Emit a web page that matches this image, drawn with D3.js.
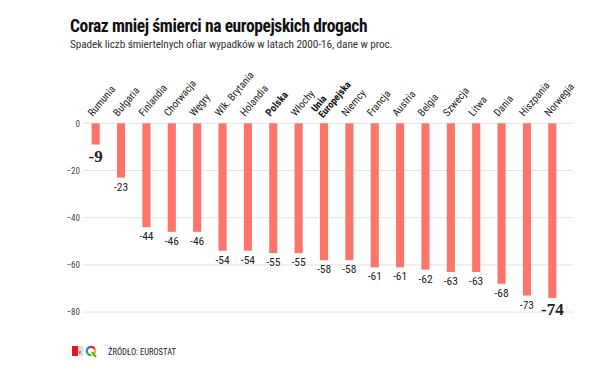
<!DOCTYPE html>
<html><head><meta charset="utf-8">
<script src="https://cdn.jsdelivr.net/npm/d3@7/dist/d3.min.js"></script>
<style>
body{margin:0;background:#fff;}
svg{display:block;}
</style></head>
<body>
<svg id="c" width="600" height="378"></svg>
<script>
const categories = ["Rumunia","Bułgaria","Finlandia","Chorwacja","Węgry","Wlk. Brytania","Holandia","Polska","Włochy","Unia Europejska","Niemcy","Francja","Austria","Belgia","Szwecja","Litwa","Dania","Hiszpania","Norwegia"];
const values = [-9,-23,-44,-46,-46,-54,-54,-55,-55,-58,-58,-61,-61,-62,-63,-63,-68,-73,-74];
const yTicks = [0,-20,-40,-60,-80];
const boldCats = ["Polska","Unia Europejska"];
const bigLabels = ["Rumunia","Norwegia"];

const svg = d3.select("#c");
const cond = "'Liberation Sans Narrow','Roboto Condensed','Arial Narrow',sans-serif";

const x = d3.scaleBand().domain(categories).range([83, 565]).paddingInner(0.68).paddingOuter(0.34);
const y = d3.scaleLinear().domain([0,-80]).range([123.3, 312.1]);

// title
svg.append("text").attr("x",70).attr("y",32).attr("font-family",cond).attr("font-weight","bold")
  .attr("font-size",17.5).attr("fill","#111").attr("letter-spacing","-0.4").text("Coraz mniej śmierci na europejskich drogach");
svg.append("text").attr("x",70).attr("y",48).attr("font-family",cond)
  .attr("font-size",11.3).attr("fill","#333").attr("letter-spacing","-0.1").text("Spadek liczb śmiertelnych ofiar wypadków w latach 2000-16, dane w proc.");

// grid
const yAxis = d3.axisLeft(y).tickValues(yTicks).tickSize(0).tickPadding(0);
const ga = svg.append("g").attr("transform","translate(80,0)").call(yAxis);
ga.select(".domain").remove();
ga.selectAll("text").attr("font-family",cond).attr("font-size",9).attr("fill","#444").attr("dy","0.32em");
svg.append("g").selectAll("line").data(yTicks).join("line")
  .attr("x1",83).attr("x2",573).attr("y1",d=>y(d)).attr("y2",d=>y(d))
  .attr("stroke","#e4e4e4").attr("stroke-width",1);

// bars
svg.append("g").selectAll("rect").data(categories).join("rect")
  .attr("x",d=>x(d)).attr("width",x.bandwidth())
  .attr("y",y(0)).attr("height",(d,i)=>y(values[i])-y(0))
  .attr("fill","#ff7469");

// value labels
svg.append("g").selectAll("text").data(categories).join("text")
  .attr("x",d=>x(d)+x.bandwidth()/2)
  .attr("y",(d,i)=>y(values[i]) + (bigLabels.includes(d)?17:13))
  .attr("text-anchor","middle")
  .attr("font-family",d=>bigLabels.includes(d)?"'Liberation Serif','DejaVu Serif',serif":cond)
  .attr("font-weight",d=>bigLabels.includes(d)?"bold":"normal")
  .attr("font-size",d=>bigLabels.includes(d)?17:11.5)
  .attr("fill","#222")
  .text((d,i)=>values[i]);

// category labels
const cl = svg.append("g").selectAll("g").data(categories).join("g")
  .attr("transform",d=>`translate(${x(d)+x.bandwidth()/2-3},117) rotate(-50)`);
cl.each(function(d){
  const g = d3.select(this);
  const bold = boldCats.includes(d);
  if(d==="Unia Europejska"){
    g.append("text").attr("x",0).attr("y",-7).attr("font-family",cond).attr("font-weight","bold")
      .attr("font-size",10).attr("fill","#111").text("Unia");
    g.append("text").attr("x",0).attr("y",2.5).attr("font-family",cond).attr("font-weight","bold")
      .attr("font-size",10).attr("fill","#111").text("Europejska");
  } else {
    g.append("text").attr("x",0).attr("y",0).attr("font-family",cond).attr("font-weight",bold?"bold":"normal")
      .attr("font-size",10.5).attr("fill","#222").text(d);
  }
});

// footer logo
const lg = svg.append("g");
lg.append("rect").attr("x",72).attr("y",346).attr("width",6).attr("height",10).attr("fill","#e8141b");
lg.append("rect").attr("x",78).attr("y",346).attr("width",5).attr("height",10).attr("fill","#ddd");
lg.append("text").attr("x",78.5).attr("y",354).attr("font-family",cond).attr("font-size",6).attr("fill","#333").text("v");
const arcCols = ["#e8141b","#f7a600","#ffd500","#3aaa35","#0097d8","#8a2be2"];
const arcGen = d3.arc().innerRadius(3.2).outerRadius(5.3);
arcCols.forEach((c,i)=>{
  lg.append("path").attr("transform","translate(91,351)")
    .attr("d",arcGen({startAngle:i*Math.PI/3,endAngle:(i+1)*Math.PI/3})).attr("fill",c);
});
lg.append("line").attr("x1",92).attr("y1",352).attr("x2",96).attr("y2",357).attr("stroke","#3aaa35").attr("stroke-width",2);
svg.append("text").attr("x",108).attr("y",355).attr("font-family",cond).attr("font-size",8.5).attr("fill","#222").text("ŹRÓDŁO: EUROSTAT");
</script>
</body></html>
